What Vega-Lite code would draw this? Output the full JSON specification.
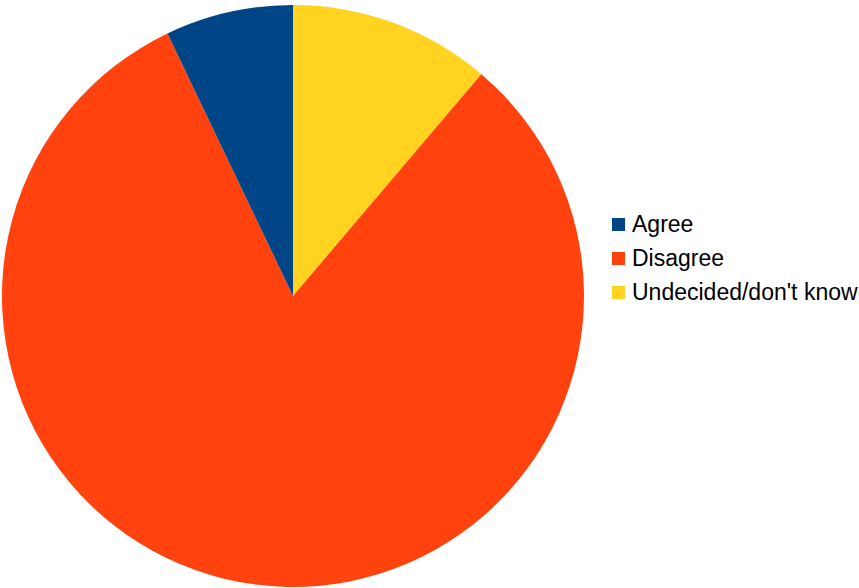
{
  "$schema": "https://vega.github.io/schema/vega-lite/v6.json",
  "width": 582,
  "height": 582,
  "padding": {"left": 2, "top": 5, "right": 0, "bottom": 0},
  "autosize": {"type": "pad"},
  "background": "white",
  "config": {"view": {"stroke": null}, "font": "Liberation Sans"},
  "data": {
    "values": [
      {"answer": "Undecided/don't know", "share": 11.2, "ord": 1},
      {"answer": "Disagree", "share": 81.7, "ord": 2},
      {"answer": "Agree", "share": 7.1, "ord": 3}
    ]
  },
  "mark": {"type": "arc", "outerRadius": 291, "stroke": null},
  "encoding": {
    "theta": {"field": "share", "type": "quantitative", "stack": true},
    "order": {"field": "ord", "type": "quantitative"},
    "color": {
      "field": "answer",
      "type": "nominal",
      "scale": {
        "domain": ["Agree", "Disagree", "Undecided/don't know"],
        "range": ["#004586", "#ff420e", "#ffd320"]
      },
      "legend": {
        "title": null,
        "orient": "none",
        "legendX": 605,
        "legendY": 208,
        "padding": 0,
        "symbolType": "square",
        "symbolSize": 169,
        "symbolStrokeWidth": 0,
        "symbolOpacity": 1,
        "labelFontSize": 23,
        "labelFont": "Liberation Sans",
        "labelColor": "#000000",
        "labelOffset": 2,
        "rowPadding": 10,
        "labelLimit": 400
      }
    }
  }
}
